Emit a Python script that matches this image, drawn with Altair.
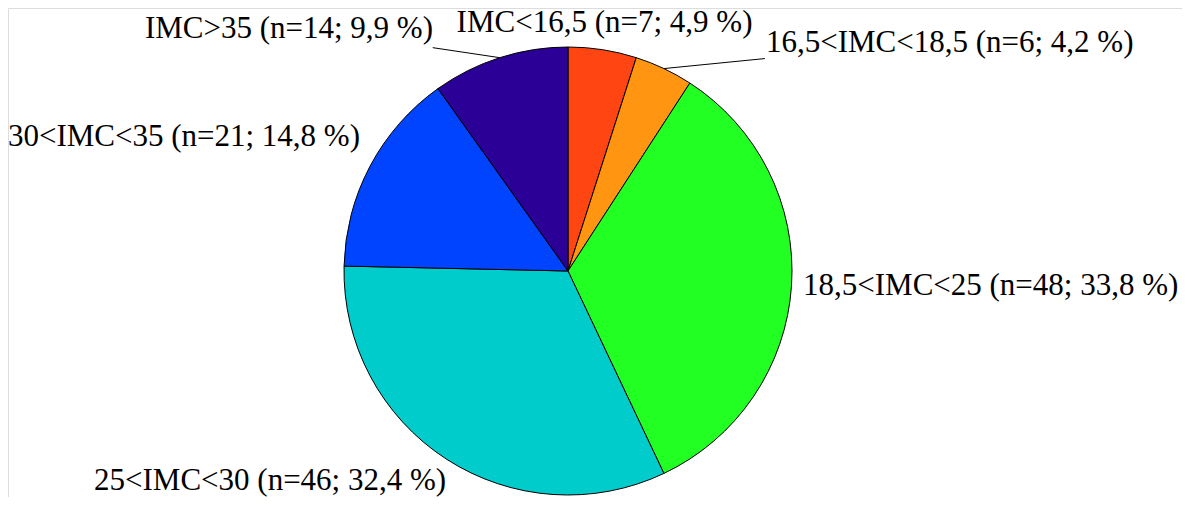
import altair as alt
import pandas as pd

categories = ["IMC<16,5", "16,5<IMC<18,5", "18,5<IMC<25", "25<IMC<30", "30<IMC<35", "IMC>35"]
counts = [7, 6, 48, 46, 21, 14]
percents = ["4,9", "4,2", "33,8", "32,4", "14,8", "9,9"]
colors = ["#FF4511", "#FF9511", "#22FF22", "#00CCCC", "#0044FF", "#2A0096"]

df = pd.DataFrame({
    "idx": list(range(len(categories))),
    "cat": categories,
    "n": counts,
    "label": [f"{c} (n={n}; {p} %)" for c, n, p in zip(categories, counts, percents)],
})

CX, CY, R = 560, 263, 224
FONT = "Liberation Serif"
FS = 31

base = (
    alt.Chart(df)
    .transform_window(cum="sum(n)", sort=[alt.SortField("idx")])
    .transform_joinaggregate(total="sum(n)")
    .transform_calculate(
        mid="(datum.cum - datum.n/2) / datum.total * 2 * PI",
    )
    .transform_calculate(
        px=f"{CX} + {R} * sin(datum.mid)",
        py=f"{CY} - {R} * cos(datum.mid)",
    )
)

pie = alt.Chart(df).mark_arc(outerRadius=R, stroke="black", strokeWidth=1).encode(
    theta=alt.Theta("n:Q", stack=True),
    color=alt.Color("cat:N", scale=alt.Scale(domain=categories, range=colors), legend=None),
    order=alt.Order("idx:Q"),
    x=alt.value(CX),
    y=alt.value(CY),
)

# (align, dx, dy) offsets of each label from the rim point at its slice's middle
label_style = [
    ("center", 2, -17.7),
    ("left", 102, -16.5),
    ("left", 11.5, 9.2),
    ("right", 0, 31),
    ("right", -10, -20.2),
    ("right", -66.7, -19.7),
]

layers = [pie]
for i, (al, ddx, ddy) in enumerate(label_style):
    layers.append(
        base.transform_filter(f"datum.idx == {i}")
        .mark_text(align=al, baseline="alphabetic", dx=ddx, dy=ddy, font=FONT, fontSize=FS, color="black")
        .encode(
            x=alt.X("px:Q", scale=None, axis=None),
            y=alt.Y("py:Q", scale=None, axis=None),
            text="label:N",
        )
    )

leaders = [(1, 101, -10), (5, -67, -10)]
for i, ox, oy in leaders:
    layers.append(
        base.transform_filter(f"datum.idx == {i}")
        .mark_rule(color="black", strokeWidth=1, x2Offset=ox, y2Offset=oy)
        .encode(
            x=alt.X("px:Q", scale=None, axis=None),
            y=alt.Y("py:Q", scale=None, axis=None),
            x2="px:Q",
            y2="py:Q",
        )
    )

chart = (
    alt.layer(*layers)
    .properties(width=1174, height=489, padding=0, autosize=alt.AutoSizeParams(type="none"))
    .configure_view(stroke=None)
    .configure(background="white")
)

chart.save("out.html", embed_options={"renderer": "svg", "actions": False})
